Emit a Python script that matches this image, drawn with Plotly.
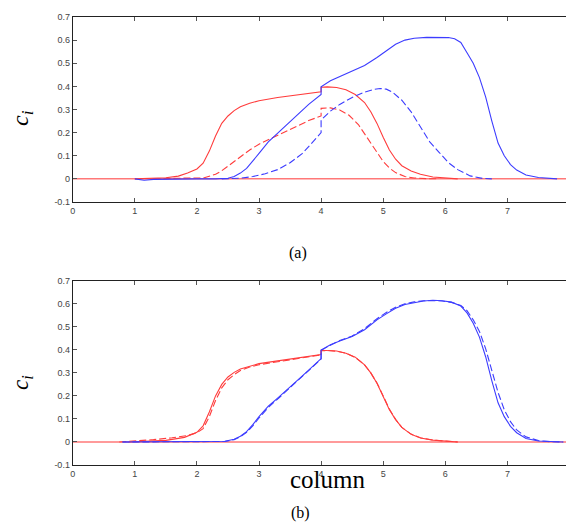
import plotly.graph_objects as go

# ---------- data: panel (a) ----------
red_solid_a_x = [1.0, 1.3, 1.5, 1.7, 1.85, 2.0, 2.1, 2.2, 2.3, 2.4, 2.5, 2.6, 2.7, 2.85, 3.0, 3.3, 3.6, 3.8, 4.0, 4.0,
                 4.1, 4.25, 4.4, 4.55, 4.7, 4.8, 4.9, 5.0, 5.1, 5.2, 5.3, 5.45, 5.6, 5.8, 6.0, 6.2]
red_solid_a_y = [0.0, 0.002, 0.005, 0.012, 0.025, 0.043, 0.068, 0.12, 0.185, 0.24, 0.272, 0.295, 0.312, 0.327, 0.338,
                 0.352, 0.364, 0.371, 0.377, 0.396, 0.398, 0.395, 0.385, 0.365, 0.33, 0.29, 0.24, 0.18, 0.125, 0.085,
                 0.057, 0.034, 0.02, 0.008, 0.003, 0.0]

red_dash_a_x = [1.3, 1.6, 1.9, 2.1, 2.2, 2.3, 2.4, 2.55, 2.7, 2.85, 3.0, 3.2, 3.4, 3.6, 3.8, 4.0, 4.0, 4.15, 4.3,
                4.45, 4.6, 4.75, 4.9, 5.0, 5.1, 5.2, 5.35, 5.5, 5.7, 5.9]
red_dash_a_y = [0.0, 0.003, 0.004, 0.003, 0.01, 0.02, 0.035, 0.065, 0.095, 0.125, 0.15, 0.175, 0.2, 0.228, 0.252,
                0.272, 0.305, 0.307, 0.298, 0.275, 0.235, 0.175, 0.113, 0.075, 0.047, 0.027, 0.01, 0.004, 0.001, 0.0]

blue_solid_a_x = [1.0, 1.15, 1.3, 1.6, 2.0, 2.3, 2.5, 2.6, 2.7, 2.8, 2.9, 3.0, 3.15, 3.3, 3.45, 3.6, 3.8, 4.0, 4.0,
                  4.15, 4.3, 4.5, 4.7, 4.9, 5.05, 5.2, 5.35, 5.5, 5.7, 5.9, 6.05, 6.15, 6.25, 6.35, 6.45, 6.55, 6.65,
                  6.75, 6.85, 6.95, 7.05, 7.15, 7.3, 7.5, 7.8]
blue_solid_a_y = [0.0, -0.006, -0.002, 0.0, 0.0, 0.0, 0.003, 0.01, 0.025, 0.045, 0.08, 0.11, 0.16, 0.198, 0.235,
                  0.272, 0.322, 0.365, 0.398, 0.424, 0.443, 0.465, 0.49, 0.525, 0.553, 0.582, 0.6, 0.608, 0.612,
                  0.613, 0.611, 0.606, 0.59, 0.545, 0.5, 0.438, 0.355, 0.25, 0.155, 0.1, 0.062, 0.038, 0.017, 0.006,
                  0.0]

blue_dash_a_x = [2.4, 2.7, 2.9, 3.1, 3.3, 3.5, 3.7, 3.85, 4.0, 4.0, 4.15, 4.3, 4.5, 4.7, 4.85, 4.95, 5.05, 5.15, 5.3,
                 5.45, 5.6, 5.75, 5.9, 6.05, 6.2, 6.4, 6.6, 6.75]
blue_dash_a_y = [0.0, 0.003, 0.01, 0.022, 0.04, 0.07, 0.11, 0.155, 0.2, 0.255, 0.293, 0.322, 0.352, 0.375, 0.387,
                 0.391, 0.388, 0.375, 0.34, 0.29, 0.225, 0.16, 0.115, 0.07, 0.04, 0.013, 0.002, 0.0]

# ---------- data: panel (b) ----------
red_solid_b_x = [0.9, 1.2, 1.5, 1.8, 2.0, 2.1, 2.2, 2.3, 2.4, 2.5, 2.6, 2.7, 2.85, 3.0, 3.3, 3.6, 3.8, 4.0, 4.0, 4.1,
                 4.25, 4.4, 4.55, 4.7, 4.8, 4.9, 5.0, 5.1, 5.2, 5.3, 5.45, 5.6, 5.8, 6.0, 6.2]
red_solid_b_y = [0.0, 0.002, 0.007, 0.02, 0.042, 0.07, 0.13, 0.2, 0.25, 0.282, 0.302, 0.317, 0.33, 0.34, 0.352, 0.364,
                 0.372, 0.38, 0.398, 0.398, 0.395, 0.385, 0.368, 0.335, 0.3, 0.255, 0.2, 0.14, 0.097, 0.063, 0.033,
                 0.017, 0.008, 0.003, 0.0]

red_dash_b_x = [0.75, 1.0, 1.3, 1.6, 1.85, 2.0, 2.1, 2.2, 2.3, 2.4, 2.5, 2.6, 2.7, 2.85, 3.0, 3.3, 3.6, 3.8, 4.0, 4.0,
                4.1, 4.25, 4.4, 4.55, 4.7, 4.8, 4.9, 5.0, 5.1, 5.2, 5.3, 5.45, 5.6, 5.8, 6.0, 6.2]
red_dash_b_y = [0.0, 0.004, 0.01, 0.018, 0.028, 0.04, 0.058, 0.11, 0.18, 0.235, 0.27, 0.292, 0.31, 0.325, 0.335,
                0.348, 0.36, 0.369, 0.378, 0.396, 0.397, 0.394, 0.385, 0.367, 0.335, 0.3, 0.256, 0.2, 0.143, 0.098,
                0.063, 0.034, 0.018, 0.008, 0.003, 0.0]

blue_solid_b_x = [0.8, 1.5, 2.0, 2.3, 2.45, 2.6, 2.7, 2.8, 2.9, 3.0, 3.15, 3.3, 3.45, 3.6, 3.8, 4.0, 4.0, 4.15, 4.3,
                  4.5, 4.7, 4.9, 5.05, 5.2, 5.35, 5.5, 5.65, 5.8, 5.95, 6.1, 6.25, 6.35, 6.45, 6.55, 6.65, 6.75, 6.85,
                  6.95, 7.05, 7.15, 7.3, 7.5, 7.7, 7.9]
blue_solid_b_y = [0.0, 0.0, 0.0, 0.0, 0.003, 0.012, 0.025, 0.045, 0.075, 0.11, 0.155, 0.19, 0.225, 0.263, 0.312,
                  0.362, 0.399, 0.422, 0.438, 0.458, 0.487, 0.53, 0.556, 0.58, 0.597, 0.606, 0.612, 0.615, 0.613,
                  0.607, 0.59, 0.56, 0.515, 0.455, 0.37, 0.265, 0.17, 0.11, 0.068, 0.04, 0.015, 0.004, 0.001, 0.0]

blue_dash_b_x = [0.8, 1.5, 2.0, 2.3, 2.45, 2.6, 2.7, 2.8, 2.9, 3.0, 3.15, 3.3, 3.45, 3.6, 3.8, 4.0, 4.0, 4.15, 4.3,
                 4.5, 4.7, 4.9, 5.05, 5.2, 5.35, 5.5, 5.65, 5.8, 5.95, 6.1, 6.25, 6.35, 6.45, 6.55, 6.65, 6.75, 6.85,
                 6.95, 7.05, 7.15, 7.3, 7.5, 7.7, 7.9]
blue_dash_b_y = [0.0, 0.0, 0.0, 0.0, 0.002, 0.01, 0.022, 0.042, 0.07, 0.104, 0.15, 0.186, 0.222, 0.26, 0.31, 0.36,
                 0.398, 0.42, 0.44, 0.46, 0.492, 0.535, 0.562, 0.585, 0.6, 0.608, 0.613, 0.614, 0.612, 0.606, 0.592,
                 0.57, 0.53, 0.48, 0.405, 0.31, 0.215, 0.14, 0.088, 0.052, 0.022, 0.006, 0.001, 0.0]

zero_x = [0, 8]
zero_y = [0, 0]

x_ticks = [0, 1, 2, 3, 4, 5, 6, 7, 8]
x_tick_text = ["0", "1", "2", "3", "4", "5", "6", "7", "8"]
y_ticks = [-0.1, 0, 0.1, 0.2, 0.3, 0.4, 0.5, 0.6, 0.7]
y_tick_text = ["-0.1", "0", "0.1", "0.2", "0.3", "0.4", "0.5", "0.6", "0.7"]

RED = "rgb(255,60,60)"
BLUE = "rgb(60,60,255)"
ZERO = "rgb(255,120,120)"
DASH = "7px,3px"

# page body has an 8px margin: figure is offset by 8px
OFF = 8
W, H = 574 - OFF, 525 - OFF


def px(x):
    return (x - OFF) / W


def py(y):
    return 1 - (y - OFF) / H


fig = go.Figure()


def add(x, y, color, dash, xa, ya, width=1.1):
    fig.add_trace(go.Scatter(x=x, y=y, mode="lines", xaxis=xa, yaxis=ya, showlegend=False,
                             line=dict(color=color, width=width, dash=dash), hoverinfo="skip"))


for xa, ya, sets in [
    ("x", "y", [(red_solid_a_x, red_solid_a_y, RED, "solid"), (red_dash_a_x, red_dash_a_y, RED, DASH),
                (blue_solid_a_x, blue_solid_a_y, BLUE, "solid"), (blue_dash_a_x, blue_dash_a_y, BLUE, DASH)]),
    ("x2", "y2", [(red_solid_b_x, red_solid_b_y, RED, "solid"), (red_dash_b_x, red_dash_b_y, RED, DASH),
                  (blue_solid_b_x, blue_solid_b_y, BLUE, "solid"), (blue_dash_b_x, blue_dash_b_y, BLUE, DASH)]),
]:
    add(zero_x, zero_y, ZERO, "solid", xa, ya, width=1.5)
    for sx, sy, c, d in sets:
        add(sx, sy, c, d, xa, ya)

tickfont = dict(family="Liberation Sans, Arial, sans-serif", size=9, color="#444444")
axis_common = dict(showgrid=False, zeroline=False, showline=True, linecolor="#222222", linewidth=1,
                   mirror="ticks", ticks="inside", ticklen=4, tickcolor="#555555", tickfont=tickfont,
                   automargin=False, ticklabeloverflow="allow")

xdom = [px(72.7), px(569.5)]
ydom_a = [py(202), py(17)]
ydom_b = [py(465), py(280.7)]
xrange = [-0.0005, 8.0005]

fig.update_layout(
    width=W, height=H, margin=dict(l=0, r=0, t=0, b=0, autoexpand=False),
    paper_bgcolor="white", plot_bgcolor="white",
    xaxis=dict(domain=xdom, range=xrange, tickvals=x_ticks, ticktext=x_tick_text, anchor="y", **axis_common),
    yaxis=dict(domain=ydom_a, range=[-0.1, 0.7], tickvals=y_ticks, ticktext=y_tick_text, anchor="x",
               **axis_common),
    xaxis2=dict(domain=xdom, range=xrange, tickvals=x_ticks, ticktext=x_tick_text, anchor="y2", **axis_common),
    yaxis2=dict(domain=ydom_b, range=[-0.1, 0.7], tickvals=y_ticks, ticktext=y_tick_text, anchor="x2",
                **axis_common),
)

serif = "Liberation Serif, Times New Roman, serif"
ann = [
    dict(x=px(22), y=py(118), text="<i>c<sub>i</sub></i>", textangle=-90, font=dict(family=serif, size=24)),
    dict(x=px(22), y=py(383), text="<i>c<sub>i</sub></i>", textangle=-90, font=dict(family=serif, size=23)),
    dict(x=px(298), y=py(253), text="(a)", font=dict(family=serif, size=16)),
    dict(x=px(327), y=py(479), text="column", font=dict(family=serif, size=25)),
    dict(x=px(300), y=py(513), text="(b)", font=dict(family=serif, size=16)),
]
for a in ann:
    fig.add_annotation(xref="paper", yref="paper", showarrow=False, xanchor="center", yanchor="middle",
                       font_color="black", **a)

fig.write_html("out.html")
